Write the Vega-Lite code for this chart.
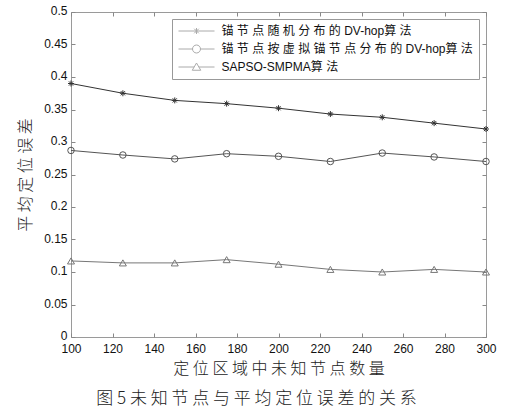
{
  "$schema": "https://vega.github.io/schema/vega-lite/v6.json",
  "width": 415,
  "height": 325,
  "autosize": "none",
  "padding": {"left": 71, "top": 12, "right": 27, "bottom": 78},
  "background": "white",
  "config": {
    "view": {"stroke": "#9a9a9a", "strokeWidth": 1},
    "axis": {
      "grid": false,
      "domain": false,
      "ticks": true,
      "tickSize": -4,
      "tickColor": "#888",
      "labelFlush": false,
      "labelFont": "Liberation Sans",
      "labelFontSize": 12,
      "labelColor": "#111",
      "labelPadding": 8,
      "titleFont": "Noto Sans CJK SC",
      "titleFontWeight": 300,
      "titleFontSize": 16,
      "titleColor": "#222"
    }
  },
  "title": {
    "text": "图 5   未 知 节 点 与 平 均 定 位 误 差 的 关 系",
    "orient": "bottom",
    "font": "Noto Sans CJK SC",
    "fontSize": 17,
    "fontWeight": 300,
    "color": "#222",
    "dx": -22,
    "offset": 15
  },
  "data": {
    "values": [
      {"x": 100, "y": 0.390, "s": "锚 节 点 随 机 分 布 的 DV-hop算 法"},
      {"x": 125, "y": 0.375, "s": "锚 节 点 随 机 分 布 的 DV-hop算 法"},
      {"x": 150, "y": 0.364, "s": "锚 节 点 随 机 分 布 的 DV-hop算 法"},
      {"x": 175, "y": 0.359, "s": "锚 节 点 随 机 分 布 的 DV-hop算 法"},
      {"x": 200, "y": 0.352, "s": "锚 节 点 随 机 分 布 的 DV-hop算 法"},
      {"x": 225, "y": 0.343, "s": "锚 节 点 随 机 分 布 的 DV-hop算 法"},
      {"x": 250, "y": 0.338, "s": "锚 节 点 随 机 分 布 的 DV-hop算 法"},
      {"x": 275, "y": 0.329, "s": "锚 节 点 随 机 分 布 的 DV-hop算 法"},
      {"x": 300, "y": 0.320, "s": "锚 节 点 随 机 分 布 的 DV-hop算 法"},
      {"x": 100, "y": 0.287, "s": "锚 节 点 按 虚 拟 锚 节 点 分 布 的 DV-hop算 法"},
      {"x": 125, "y": 0.280, "s": "锚 节 点 按 虚 拟 锚 节 点 分 布 的 DV-hop算 法"},
      {"x": 150, "y": 0.274, "s": "锚 节 点 按 虚 拟 锚 节 点 分 布 的 DV-hop算 法"},
      {"x": 175, "y": 0.282, "s": "锚 节 点 按 虚 拟 锚 节 点 分 布 的 DV-hop算 法"},
      {"x": 200, "y": 0.278, "s": "锚 节 点 按 虚 拟 锚 节 点 分 布 的 DV-hop算 法"},
      {"x": 225, "y": 0.270, "s": "锚 节 点 按 虚 拟 锚 节 点 分 布 的 DV-hop算 法"},
      {"x": 250, "y": 0.283, "s": "锚 节 点 按 虚 拟 锚 节 点 分 布 的 DV-hop算 法"},
      {"x": 275, "y": 0.277, "s": "锚 节 点 按 虚 拟 锚 节 点 分 布 的 DV-hop算 法"},
      {"x": 300, "y": 0.270, "s": "锚 节 点 按 虚 拟 锚 节 点 分 布 的 DV-hop算 法"},
      {"x": 100, "y": 0.117, "s": "SAPSO-SMPMA算 法"},
      {"x": 125, "y": 0.114, "s": "SAPSO-SMPMA算 法"},
      {"x": 150, "y": 0.114, "s": "SAPSO-SMPMA算 法"},
      {"x": 175, "y": 0.119, "s": "SAPSO-SMPMA算 法"},
      {"x": 200, "y": 0.112, "s": "SAPSO-SMPMA算 法"},
      {"x": 225, "y": 0.104, "s": "SAPSO-SMPMA算 法"},
      {"x": 250, "y": 0.100, "s": "SAPSO-SMPMA算 法"},
      {"x": 275, "y": 0.104, "s": "SAPSO-SMPMA算 法"},
      {"x": 300, "y": 0.100, "s": "SAPSO-SMPMA算 法"}
    ]
  },
  "layer": [
    {
      "mark": {"type": "line", "strokeWidth": 1},
      "encoding": {
        "x": {
          "field": "x", "type": "quantitative",
          "scale": {"domain": [100, 300], "nice": false, "zero": false},
          "axis": {"orient": "bottom", "values": [100, 120, 140, 160, 180, 200, 220, 240, 260, 280, 300], "title": "定 位 区 域 中 未 知 节 点 数 量", "labelPadding": 10, "titlePadding": 6}
        },
        "y": {
          "field": "y", "type": "quantitative",
          "scale": {"domain": [0, 0.5], "nice": false},
          "axis": {"orient": "left", "values": [0, 0.05, 0.1, 0.15, 0.2, 0.25, 0.3, 0.35, 0.4, 0.45, 0.5], "format": ".2~f", "title": "平 均 定 位 误 差", "titlePadding": 10, "labelOffset": -1.5}
        },
        "color": {
          "field": "s", "type": "nominal",
          "scale": {"domain": ["锚 节 点 随 机 分 布 的 DV-hop算 法", "锚 节 点 按 虚 拟 锚 节 点 分 布 的 DV-hop算 法", "SAPSO-SMPMA算 法"], "range": ["#333333", "#555555", "#777777"]},
          "legend": null
        }
      }
    },
    {
      "mark": {"type": "point", "filled": false, "strokeWidth": 1, "opacity": 1},
      "encoding": {
        "x": {
          "field": "x", "type": "quantitative",
          "axis": {"orient": "top", "labels": false, "values": [100, 120, 140, 160, 180, 200, 220, 240, 260, 280, 300], "title": null}
        },
        "y": {
          "field": "y", "type": "quantitative",
          "axis": {"orient": "right", "labels": false, "values": [0, 0.05, 0.1, 0.15, 0.2, 0.25, 0.3, 0.35, 0.4, 0.45, 0.5], "title": null}
        },
        "color": {"field": "s", "type": "nominal", "legend": null},
        "shape": {
          "field": "s", "type": "nominal",
          "scale": {"domain": ["锚 节 点 随 机 分 布 的 DV-hop算 法", "锚 节 点 按 虚 拟 锚 节 点 分 布 的 DV-hop算 法", "SAPSO-SMPMA算 法"], "range": ["M-1,0H1M0,-1V1M-0.7,-0.7L0.7,0.7M-0.7,0.7L0.7,-0.7", "circle", "triangle-up"]},
          "legend": null
        },
        "size": {
          "field": "s", "type": "nominal",
          "scale": {"domain": ["锚 节 点 随 机 分 布 的 DV-hop算 法", "锚 节 点 按 虚 拟 锚 节 点 分 布 的 DV-hop算 法", "SAPSO-SMPMA算 法"], "range": [36, 49, 64]},
          "legend": null
        }
      }
    },
    {
      "transform": [{"filter": "datum.x < 0"}],
      "mark": {"type": "point", "filled": false, "strokeWidth": 1},
      "encoding": {
        "shape": {
          "field": "s", "type": "nominal",
          "scale": {"domain": ["锚 节 点 随 机 分 布 的 DV-hop算 法", "锚 节 点 按 虚 拟 锚 节 点 分 布 的 DV-hop算 法", "SAPSO-SMPMA算 法"], "range": ["M-3.6,0H3.6M0,-0.6V0.6M-0.45,-0.45L0.45,0.45M-0.45,0.45L0.45,-0.45", "M-3.6,0H-0.8M0.8,0H3.6M0.8,0A0.8,0.8,0,1,1,-0.8,0A0.8,0.8,0,1,1,0.8,0Z", "M-3.6,0H-0.47M0.47,0H3.6M0,-0.8L0.85,0.65L-0.85,0.65Z"]},
          "legend": {"title": null, "orient": "none", "legendX": 101, "legendY": 7, "strokeColor": "#999", "fillColor": "white", "padding": 6, "symbolSize": 100, "symbolStrokeWidth": 1, "symbolFillColor": "white", "symbolOffset": 12.5, "labelOffset": 19, "labelFont": "Liberation Sans, Noto Sans CJK SC", "labelFontSize": 12, "labelColor": "#111", "rowPadding": 6, "labelLimit": 400}
        },
        "stroke": {
          "field": "s", "type": "nominal",
          "scale": {"domain": ["锚 节 点 随 机 分 布 的 DV-hop算 法", "锚 节 点 按 虚 拟 锚 节 点 分 布 的 DV-hop算 法", "SAPSO-SMPMA算 法"], "range": ["#333333", "#555555", "#777777"]},
          "legend": {"title": null, "orient": "none", "legendX": 101, "legendY": 7, "strokeColor": "#999", "fillColor": "white", "padding": 6, "symbolSize": 100, "symbolStrokeWidth": 1, "symbolFillColor": "white", "symbolOffset": 12.5, "labelOffset": 19, "labelFont": "Liberation Sans, Noto Sans CJK SC", "labelFontSize": 12, "labelColor": "#111", "rowPadding": 6, "labelLimit": 400}
        }
      }
    }
  ],
  "resolve": {
    "scale": {"shape": "independent", "size": "independent"},
    "axis": {"x": "independent", "y": "independent"}
  }
}
